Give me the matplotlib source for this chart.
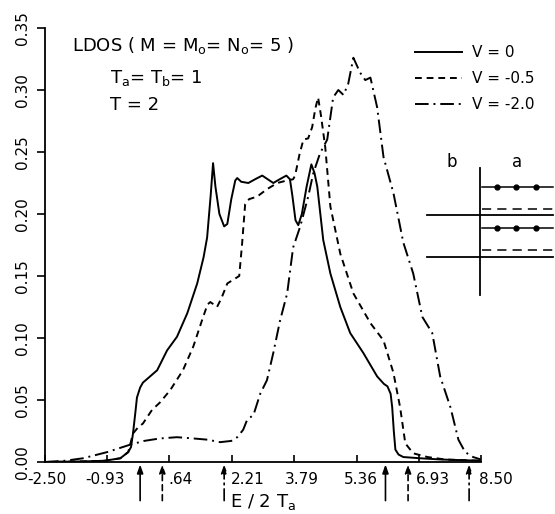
import matplotlib
matplotlib.use("Agg")
from matplotlib import pyplot as plt
from matplotlib.lines import Line2D
from matplotlib.transforms import ScaledTranslation
import numpy as np

# LDOS curves
e_v0 = [-2.5, -1.5, -1.0, -0.6, -0.40, -0.33, -0.28, -0.22, -0.18, -0.10, -0.03, 0.15, 0.33,
        0.58, 0.83, 1.09, 1.34, 1.50, 1.59, 1.68, 1.74, 1.80, 1.90, 2.02, 2.10, 2.20, 2.30,
        2.35, 2.45, 2.63, 2.80, 2.98, 3.12, 3.26, 3.42, 3.59, 3.68, 3.74, 3.82, 3.89, 3.98,
        4.10, 4.22, 4.30, 4.37, 4.52, 4.70, 4.95, 5.20, 5.53, 5.88, 6.05, 6.14, 6.22, 6.26,
        6.30, 6.34, 6.42, 6.54, 6.97, 7.5, 8.5]
ldos_v0 = [0.0, 0.0005, 0.001, 0.003, 0.008, 0.012, 0.023, 0.040, 0.052, 0.060, 0.064, 0.069,
           0.074, 0.090, 0.101, 0.120, 0.144, 0.165, 0.181, 0.215, 0.241, 0.222, 0.200, 0.190,
           0.192, 0.212, 0.227, 0.229, 0.226, 0.225, 0.228, 0.231, 0.228, 0.225, 0.228, 0.231,
           0.228, 0.215, 0.195, 0.191, 0.200, 0.222, 0.240, 0.233, 0.222, 0.179, 0.152, 0.125,
           0.104, 0.088, 0.069, 0.063, 0.061, 0.055, 0.044, 0.025, 0.010, 0.006, 0.004, 0.003,
           0.002, 0.001]

e_v05 = [-2.5, -1.5, -1.0, -0.6, -0.40, -0.28, -0.15, -0.03, 0.20, 0.40, 0.66, 0.98, 1.24,
         1.49, 1.60, 1.67, 1.76, 1.84, 1.95, 2.10, 2.30, 2.40, 2.47, 2.55, 2.65, 2.85, 3.10,
         3.36, 3.60, 3.76, 3.81, 3.92, 4.02, 4.14, 4.24, 4.32, 4.39, 4.46, 4.57, 4.70, 4.95,
         5.28, 5.71, 6.04, 6.29, 6.46, 6.59, 6.79, 7.15, 7.6, 8.5]
ldos_v05 = [0.0, 0.0005, 0.001, 0.003, 0.008, 0.023, 0.028, 0.031, 0.042, 0.048, 0.058, 0.074,
            0.093, 0.117, 0.127, 0.129, 0.127, 0.125, 0.132, 0.144, 0.148, 0.150, 0.175, 0.208,
            0.212, 0.214, 0.220, 0.225, 0.227, 0.228, 0.231, 0.248, 0.260, 0.261, 0.270, 0.285,
            0.294, 0.280, 0.254, 0.206, 0.168, 0.136, 0.112, 0.098, 0.072, 0.044, 0.015, 0.007,
            0.004, 0.002, 0.001]

e_v2 = [-2.5, -2.0, -1.54, -0.93, -0.35, 0.0, 0.40, 0.83, 1.24, 1.60, 1.92, 2.20, 2.35, 2.50,
        2.60, 2.76, 2.93, 3.10, 3.26, 3.43, 3.61, 3.76, 3.94, 4.14, 4.27, 4.44, 4.62, 4.77,
        4.90, 5.03, 5.15, 5.28, 5.45, 5.58, 5.71, 5.88, 6.04, 6.29, 6.54, 6.79, 7.02, 7.27,
        7.47, 7.73, 7.93, 8.10, 8.30, 8.50]
ldos_v2 = [0.0, 0.001, 0.003, 0.008, 0.014, 0.017, 0.019, 0.020, 0.019, 0.018, 0.016, 0.017,
           0.020, 0.026, 0.034, 0.038, 0.055, 0.066, 0.088, 0.114, 0.136, 0.173, 0.190, 0.214,
           0.233, 0.249, 0.260, 0.294, 0.300, 0.296, 0.305, 0.326, 0.314, 0.308, 0.310, 0.286,
           0.246, 0.217, 0.177, 0.152, 0.117, 0.104, 0.069, 0.044, 0.018, 0.008, 0.004, 0.002]

labels = ["V = 0", "V = -0.5", "V = -2.0"]
band_edges = [(-0.10, 6.09), (0.46, 6.66), (2.02, 8.20)]

xticks = [-2.50, -0.93, 0.64, 2.21, 3.79, 5.36, 6.93, 8.50]
xticklabels = ["-2.50", "-0.93", ".64", "2.21", "3.79", "5.36", "6.93", "8.50"]
xlabel_shift = [2, -2, 11, 16, 7, 4, 14, 15]   # px, labels dodge the arrows
yticks = [0.00, 0.05, 0.10, 0.15, 0.20, 0.25, 0.30, 0.35]

# inset sketch: levels on side b (solid) and side a
levels_b = [215, 257]
levels_a = [187, 209, 228, 250]
styles_a = ["dot", "dash", "dot", "dash"]

styles = ["-", (0, (3.5, 2.5)), (0, (7, 2.5, 1, 2.5))]

fig = plt.figure(figsize=(5.55, 5.14), dpi=100)
ax = fig.add_axes([45 / 555, 52 / 514, 436 / 555, 434 / 514])

lw = 1.4
ax.plot(e_v0, ldos_v0, color="black", lw=lw, linestyle=styles[0], label=labels[0])
ax.plot(e_v05, ldos_v05, color="black", lw=lw, linestyle=styles[1], label=labels[1])
ax.plot(e_v2, ldos_v2, color="black", lw=lw, linestyle=styles[2], label=labels[2])

ax.set_xlim(-2.5, 8.5)
ax.set_ylim(0, 0.35)
for s in ["top", "right"]:
    ax.spines[s].set_visible(False)
ax.spines["left"].set_linewidth(1.3)
ax.spines["bottom"].set_linewidth(1.3)

ax.set_xticks(xticks)
ax.set_xticklabels(xticklabels)
ax.set_yticks(yticks)
ax.set_yticklabels(["%.2f" % v for v in yticks])
ax.tick_params(axis="x", direction="in", length=5, width=1.2, pad=7, labelsize=11)
ax.tick_params(axis="y", direction="out", length=6, width=1.2, pad=5, labelsize=11,
               labelrotation=90)
for lab in ax.get_yticklabels():
    lab.set_va("center")
for lab, dx in zip(ax.get_xticklabels(), xlabel_shift):
    lab.set_transform(lab.get_transform() + ScaledTranslation(dx / 100, 0, fig.dpi_scale_trans))

ax.set_xlabel(r"E / 2 T$_\mathrm{a}$", fontsize=13, labelpad=4)

# band edge arrows under the axis
for (lo, hi), ls in zip(band_edges, styles):
    for e in (lo, hi):
        ax.annotate("", xy=(e, -0.002), xycoords="data",
                    xytext=(0, -26), textcoords="offset points",
                    arrowprops=dict(arrowstyle="-|>,head_length=0.5,head_width=0.18",
                                    color="black", lw=1.2, linestyle=ls,
                                    shrinkA=0, shrinkB=0),
                    annotation_clip=False)

handles = [Line2D([], [], color="black", lw=lw, linestyle=s) for s in styles]
fig.legend(handles, labels, loc="upper left", bbox_to_anchor=(415 / 555, 1 - 45 / 514),
           frameon=False, fontsize=11, handlelength=3.1, handletextpad=0.6,
           labelspacing=0.72, borderpad=0, borderaxespad=0)

fig.text(72 / 555, 1 - 45 / 514, r"LDOS ( M = M$_\mathrm{o}$= N$_\mathrm{o}$= 5 )",
         fontsize=13, va="center", ha="left")
fig.text(110 / 555, 1 - 78 / 514, r"T$_\mathrm{a}$= T$_\mathrm{b}$= 1",
         fontsize=13, va="center", ha="left")
fig.text(110 / 555, 1 - 105 / 514, "T = 2", fontsize=13, va="center", ha="left")

# inset level sketch (pixel coordinates of the figure)
axi = fig.add_axes([420 / 555, 1 - 300 / 514, 135 / 555, 150 / 514])
axi.set_xlim(420, 555)
axi.set_ylim(300, 150)
axi.axis("off")
axi.plot([480, 480], [168, 295], color="black", lw=1.3)
axi.text(452, 162, "b", fontsize=12, ha="center", va="center")
axi.text(517, 162, "a", fontsize=12, ha="center", va="center")
for y in levels_b:
    axi.plot([427, 553], [y, y], color="black", lw=1.3)
for y, st in zip(levels_a, styles_a):
    if st == "dot":
        axi.plot([482, 553], [y, y], color="black", lw=1.1)
        axi.plot([497, 516, 536], [y, y, y], "o", color="black", ms=3.5)
    else:
        axi.plot([482, 553], [y, y], color="black", lw=1.1, linestyle=(0, (6, 4)))

fig.savefig("out.png", dpi=100)
